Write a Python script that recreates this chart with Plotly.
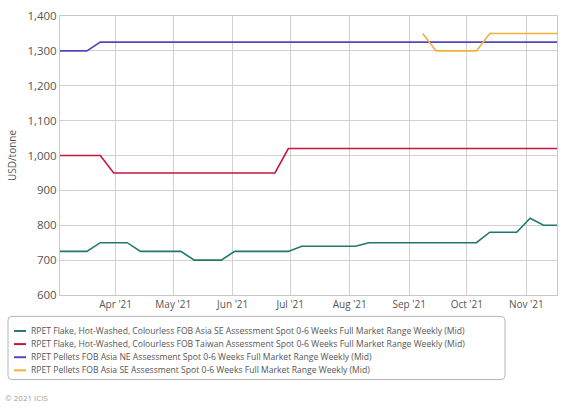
import plotly.graph_objects as go
import pandas as pd

# Weekly assessment dates
dates = pd.date_range("2021-03-03", "2021-11-17", freq="7D")

flake_se = [725, 725, 725, 750, 750, 750, 725, 725, 725, 725,
            700, 700, 700, 725, 725, 725, 725, 725, 740, 740,
            740, 740, 740, 750, 750, 750, 750, 750, 750, 750,
            750, 750, 780, 780, 780, 820, 800, 800]

flake_tw = [1000, 1000, 1000, 1000] + [950] * 13 + [1020] * 21

pellets_ne = [1300, 1300, 1300] + [1325] * 35

pellets_se = [None] * 27 + [1350, 1300, 1300, 1300, 1300,
                            1350, 1350, 1350, 1350, 1350, 1350]

names = [
    "RPET Flake, Hot-Washed, Colourless FOB Asia SE Assessment Spot 0-6 Weeks Full Market Range Weekly (Mid)",
    "RPET Flake, Hot-Washed, Colourless FOB Taiwan Assessment Spot 0-6 Weeks Full Market Range Weekly (Mid)",
    "RPET Pellets FOB Asia NE Assessment Spot 0-6 Weeks Full Market Range Weekly (Mid)",
    "RPET Pellets FOB Asia SE Assessment Spot 0-6 Weeks Full Market Range Weekly (Mid)",
]
series = [flake_se, flake_tw, pellets_ne, pellets_se]
colors = ["#23766c", "#c3173f", "#5347bd", "#f2b03a"]

month_ticks = pd.date_range("2021-04-01", "2021-11-01", freq="MS")

# plot area in pixels
L, R, T, B = 60, 557, 8, 295


def px(x):
    return (x - L) / (R - L)


def py(y):
    return (B - y) / (B - T)


fig = go.Figure()

for name, vals, col in zip(names, series, colors):
    fig.add_trace(go.Scatter(
        x=dates,
        y=vals,
        mode="lines",
        name=name,
        line=dict(color=col, width=1.6),
        connectgaps=False,
        showlegend=False
    ))

# legend drawn by hand (plotly's rows are too tall)
shapes = []
annotations = []

bx0, bx1, by0, by1, r = 8, 505, 317, 382, 4
path = (f"M {px(bx0 + r)},{py(by0)} L {px(bx1 - r)},{py(by0)} "
        f"Q {px(bx1)},{py(by0)} {px(bx1)},{py(by0 + r)} "
        f"L {px(bx1)},{py(by1 - r)} Q {px(bx1)},{py(by1)} {px(bx1 - r)},{py(by1)} "
        f"L {px(bx0 + r)},{py(by1)} Q {px(bx0)},{py(by1)} {px(bx0)},{py(by1 - r)} "
        f"L {px(bx0)},{py(by0 + r)} Q {px(bx0)},{py(by0)} {px(bx0 + r)},{py(by0)} Z")
shapes.append(dict(type="path", path=path, xref="paper", yref="paper",
                   line=dict(color="#b5b5b5", width=1), fillcolor="white"))

row_y = [332, 345.5, 359, 372.5]
for name, col, yy in zip(names, colors, row_y):
    shapes.append(dict(type="line", xref="paper", yref="paper",
                       x0=px(14), x1=px(26), y0=py(yy), y1=py(yy),
                       line=dict(color=col, width=2)))
    annotations.append(dict(text=name, xref="paper", yref="paper",
                            x=px(29), y=py(yy), xanchor="left", yanchor="middle",
                            showarrow=False, font=dict(size=8.6, color="#555555")))

annotations.append(dict(
    text="© 2021 ICIS", xref="paper", yref="paper",
    x=px(3), y=py(400), xanchor="left", yanchor="middle",
    showarrow=False, font=dict(size=8, color="#a0a0a0")
))

fig.update_layout(
    width=576,
    height=412,
    margin=dict(l=L, r=576 - R, t=T, b=412 - B),
    paper_bgcolor="white",
    plot_bgcolor="white",
    font=dict(family="Open Sans, sans-serif", color="#555555", size=11),
    showlegend=False,
    shapes=shapes,
    annotations=annotations
)

fig.update_xaxes(
    range=[dates[0], dates[-1]],
    tickvals=month_ticks,
    tickformat="%b '%y",
    showgrid=True, gridcolor="#d0d0d0", gridwidth=1,
    showline=True, linecolor="#c8c8c8", mirror=True,
    ticks="", tickfont=dict(size=10, color="#555555"),
    zeroline=False
)

fig.update_yaxes(
    range=[600, 1400],
    dtick=100,
    tickformat=",",
    title=dict(text="USD/tonne", font=dict(size=10, color="#555555"), standoff=8),
    showgrid=True, gridcolor="#d0d0d0", gridwidth=1,
    showline=True, linecolor="#c8c8c8", mirror=True,
    ticks="", tickfont=dict(size=11.5, color="#555555"),
    zeroline=False
)

fig.write_html("out.html", config={"displayModeBar": False},
               post_script="document.body.style.margin='0';")
